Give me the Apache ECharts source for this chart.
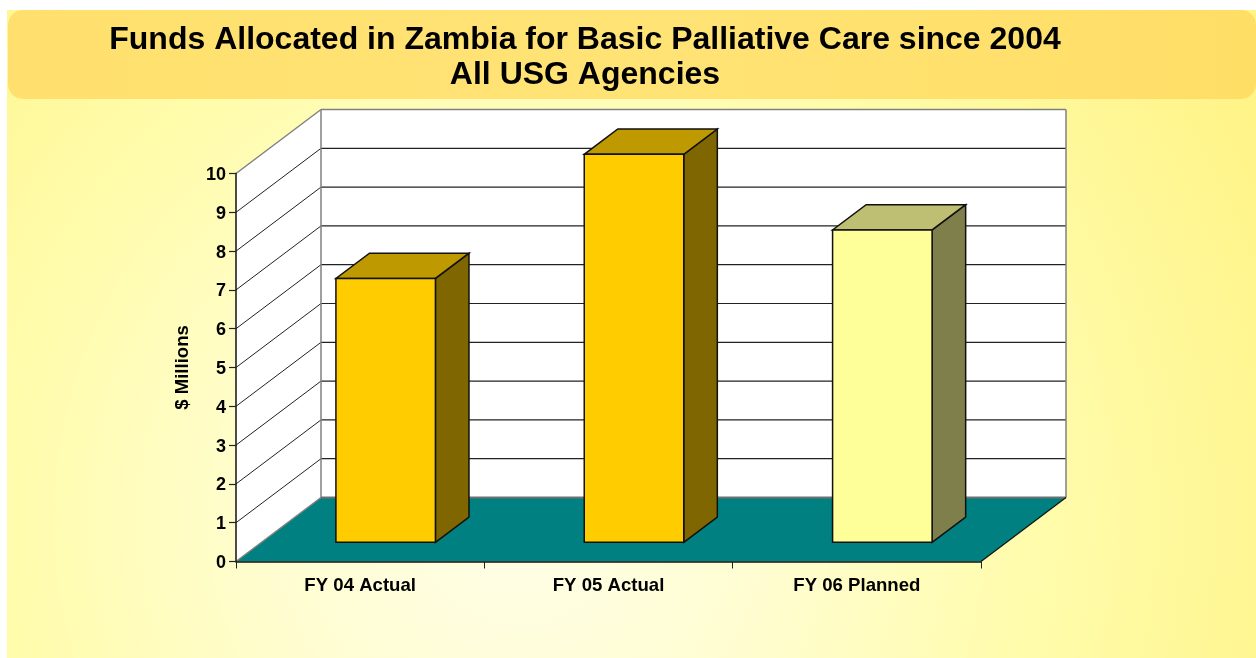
<!DOCTYPE html>
<html>
<head>
<meta charset="utf-8">
<style>
  html, body { margin: 0; padding: 0; background: #fff; }
  #page { position: absolute; left: 7px; top: 10px; width: 1249px; height: 648px;
    background: radial-gradient(circle 830px at 513px 510px, #FFFEE8 0%, #FFFDD0 30%, #FFFCAC 62%, #FFF488 100%); }
  #band { position: absolute; left: 8px; top: 10px; width: 1248px; height: 89px; border-radius: 15px;
    background: linear-gradient(90deg, #FFE06E 0%, #FFE375 50%, #FFDE66 100%); }
  #main { position: absolute; left: 0; top: 0; width: 1256px; height: 658px; }
</style>
</head>
<body>
<div id="page"></div>
<div id="band"></div>
<div id="main"></div>
<script src="https://cdn.jsdelivr.net/npm/echarts@6/dist/echarts.min.js"></script>
<script>
var categories = ['FY 04 Actual', 'FY 05 Actual', 'FY 06 Planned'];
var funds = [6.8, 10, 8.05];
var yTicks = [0, 1, 2, 3, 4, 5, 6, 7, 8, 9, 10];
var titleText = 'Funds Allocated in Zambia for Basic Palliative Care since 2004\nAll USG Agencies';
var yName = '$ Millions';

var FONT = '"Liberation Sans", Arial, sans-serif';
// depth of the fake 3d box, and how far the bars sit inside it
var DEPTH_X = 85, DEPTH_Y = -64;
var BAR_FRAC = 0.3, BAR_DEPTH = 0.395, BAR_WIDTH = 99.5;
var barColors = [
    { front: '#FFCC00', top: '#BF9900', side: '#7F6600' },
    { front: '#FFCC00', top: '#BF9900', side: '#7F6600' },
    { front: '#FFFF99', top: '#BFBF73', side: '#7F7F4C' }
];

function poly(points, fill, stroke, width) {
    return {
        type: 'polygon',
        shape: { points: points },
        style: { fill: fill, stroke: stroke || null, lineWidth: width || 0, lineJoin: 'miter' }
    };
}
function seg(a, b, color, width) {
    return {
        type: 'line',
        shape: { x1: a[0], y1: a[1], x2: b[0], y2: b[1] },
        style: { stroke: color, lineWidth: width, fill: null }
    };
}

// walls, floor and the gridlines running round them
function renderBox(params, api) {
    var band = api.size([1, 0])[0];
    var x0 = api.coord([0, 0])[0] - band / 2;
    var x1 = api.coord([categories.length - 1, 0])[0] + band / 2;
    var y0 = api.coord([0, 0])[1];
    var y1 = api.coord([0, 10])[1];
    var dx = DEPTH_X, dy = DEPTH_Y;
    var kids = [
        poly([[x0, y0], [x0 + dx, y0 + dy], [x0 + dx, y1 + dy], [x0, y1]], '#fff'),
        poly([[x0 + dx, y0 + dy], [x1 + dx, y0 + dy], [x1 + dx, y1 + dy], [x0 + dx, y1 + dy]], '#fff')
    ];
    yTicks.forEach(function (t) {
        if (t === 0 || t === 10) return;
        var y = api.coord([0, t])[1];
        kids.push(seg([x0, y], [x0 + dx, y + dy], '#222', 1));
        kids.push(seg([x0 + dx, y + dy], [x1 + dx, y + dy], '#222', 1.2));
    });
    kids.push(poly([[x0, y0], [x1, y0], [x1 + dx, y0 + dy], [x0 + dx, y0 + dy]], '#008080'));
    // wall edges
    kids.push(seg([x0, y1], [x0 + dx, y1 + dy], '#808080', 1.5));
    kids.push(seg([x0 + dx, y1 + dy], [x1 + dx, y1 + dy], '#808080', 1.5));
    kids.push(seg([x0 + dx, y1 + dy], [x0 + dx, y0 + dy], '#808080', 1.5));
    kids.push(seg([x1 + dx, y1 + dy], [x1 + dx, y0 + dy], '#808080', 1.5));
    kids.push(seg([x0 + dx, y0 + dy], [x1 + dx, y0 + dy], '#707070', 2));
    kids.push(seg([x0, y0], [x0 + dx, y0 + dy], '#808080', 1.5));
    kids.push(seg([x1, y0], [x1 + dx, y0 + dy], '#111', 1.2));
    return { type: 'group', children: kids };
}

function renderBar(params, api) {
    var c = api.coord([api.value(0), api.value(1)]);
    var base = api.coord([api.value(0), 0]);
    var ox = DEPTH_X * BAR_FRAC, oy = DEPTH_Y * BAR_FRAC;
    var l = c[0] + ox - BAR_WIDTH / 2, r = l + BAR_WIDTH;
    var t = c[1] + oy, b = base[1] + oy;
    var dx = DEPTH_X * BAR_DEPTH, dy = DEPTH_Y * BAR_DEPTH;
    var col = barColors[params.dataIndex];
    var edge = '#111';
    return {
        type: 'group',
        children: [
            poly([[r, b], [r + dx, b + dy], [r + dx, t + dy], [r, t]], col.side, edge, 1.5),
            poly([[l, t], [r, t], [r + dx, t + dy], [l + dx, t + dy]], col.top, edge, 1.5),
            poly([[l, b], [r, b], [r, t], [l, t]], col.front, edge, 1.5)
        ]
    };
}

var myChart = echarts.init(document.getElementById('main'));

var option = {
    animation: false,
    backgroundColor: 'transparent',
    title: {
        text: titleText,
        left: 580,
        top: 18,
        textAlign: 'center',
        textStyle: { fontFamily: FONT, fontSize: 32, fontWeight: 'bold', color: '#000', lineHeight: 35 }
    },
    grid: { left: 236, right: 275, top: 173.5, bottom: 96.5 },
    xAxis: {
        type: 'category',
        data: categories,
        z: 5,
        axisLine: { lineStyle: { color: '#111', width: 1.5 } },
        axisTick: { show: true, alignWithLabel: false, length: 7, lineStyle: { color: '#222' } },
        axisLabel: { fontFamily: FONT, fontSize: 18.6, fontWeight: 'bold', color: '#000', margin: 15 }
    },
    yAxis: {
        type: 'value',
        min: 0,
        max: 10,
        interval: 1,
        z: 5,
        position: 'left',
        name: yName,
        nameLocation: 'middle',
        nameRotate: 90,
        nameGap: 44,
        nameTextStyle: { fontFamily: FONT, fontSize: 18.6, fontWeight: 'bold', color: '#000' },
        splitLine: { show: false },
        axisLine: { show: true, lineStyle: { color: '#111', width: 1.5 } },
        axisTick: { show: true, length: 7, lineStyle: { color: '#222', width: 1.2 } },
        axisLabel: { margin: 10,
            rich: { t: { fontFamily: FONT, fontSize: 18, fontWeight: 'bold', color: '#000',
                padding: [3, 0, 0, 0], lineHeight: 18 } },
            formatter: function (v) { return '{t|' + v + '}'; } }
    },
    series: [
        { type: 'custom', name: 'box', z: 1, silent: true, renderItem: renderBox, data: [[0, 0]] },
        {
            type: 'custom', name: 'Funds', z: 3, renderItem: renderBar,
            encode: { x: 0, y: 1 },
            data: funds.map(function (v, i) { return [i, v]; })
        }
    ]
};

myChart.setOption(option);
</script>
</body>
</html>
